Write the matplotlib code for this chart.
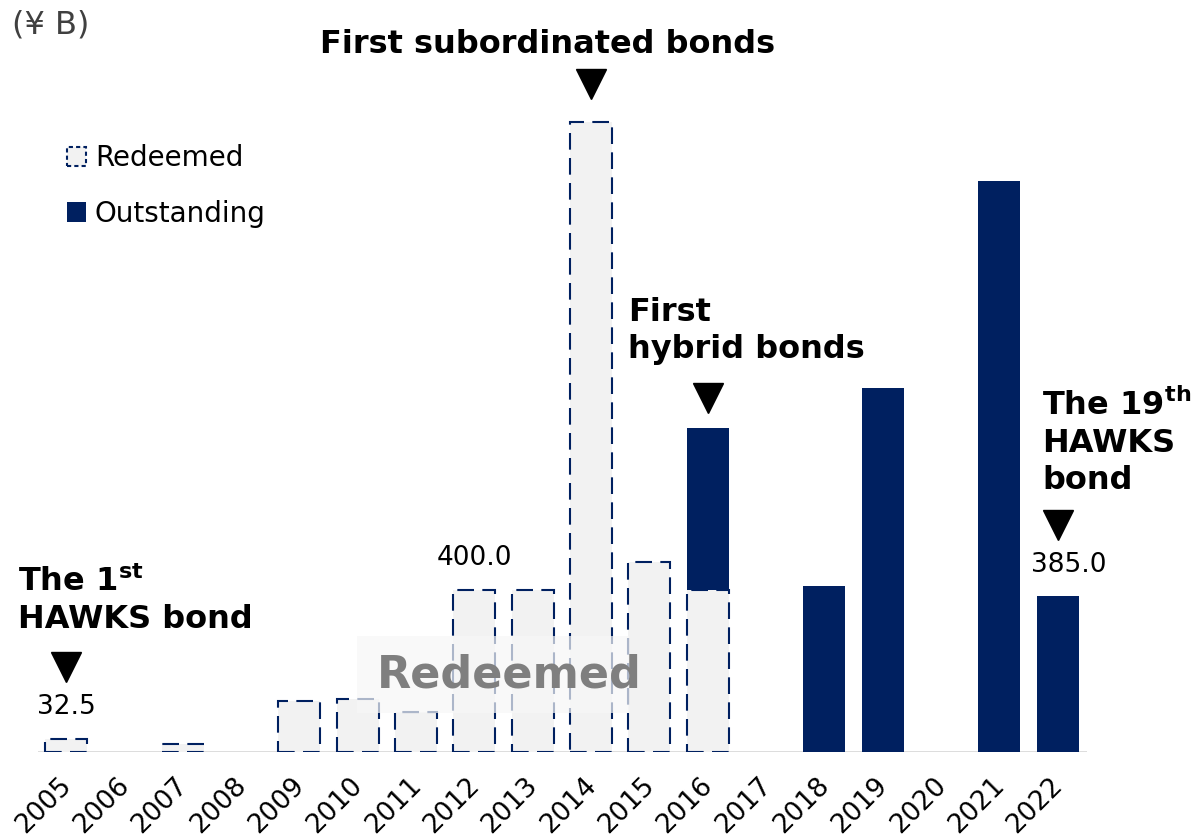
import matplotlib
matplotlib.use("Agg")
import matplotlib.pyplot as plt
import matplotlib.transforms as mtransforms
from matplotlib.patches import Patch, Rectangle

# values in ¥ B
years = [str(y) for y in range(2005, 2023)]
redeemed = [32.5, 0, 20, 0, 125, 130, 100, 400, 400, 1555, 470, 400, 0, 0, 0, 0, 0, 0]
outstanding = [0, 0, 0, 0, 0, 0, 0, 0, 0, 0, 0, 400, 0, 410, 900, 0, 1410, 385]

# value labels: (bar index, text)
value_labels = [(0, "32.5"), (7, "400.0"), (17, "385.0")]

NAVY = "#002060"
LIGHT = "#f2f2f2"

fig = plt.figure(figsize=(11.97, 8.38), dpi=100)
ax = fig.add_axes([38 / 1197, 86 / 838, 1049 / 1197, 752 / 838])

x = list(range(len(years)))
width = 0.72

# redeemed bars (dashed outline)
rx = [i for i in x if redeemed[i] > 0]
ax.bar(rx, [redeemed[i] for i in rx], width=width, color=LIGHT,
       edgecolor=NAVY, linewidth=1.5, linestyle=(0, (8, 4)), zorder=2)

# outstanding bars, stacked on top of redeemed
ox = [i for i in x if outstanding[i] > 0]
ax.bar(ox, [outstanding[i] for i in ox], width=width,
       bottom=[redeemed[i] for i in ox], color=NAVY, edgecolor="none", zorder=2)

ax.axhline(0, color="#d9d9d9", lw=2, zorder=1)

ax.set_xlim(-0.48, 17.5)
ax.set_ylim(0, 1857)
for s in ax.spines.values():
    s.set_visible(False)
ax.set_yticks([])
ax.set_xticks(x)
ax.set_xticklabels(years, rotation=45, ha="right", va="top",
                   rotation_mode="anchor", fontsize=19)
ax.tick_params(axis="x", length=0, pad=15)
offset = mtransforms.ScaledTranslation(-8 / 100, 0, fig.dpi_scale_trans)
for lbl in ax.get_xticklabels():
    lbl.set_transform(lbl.get_transform() + offset)

# value labels
for i, t in value_labels:
    yv = redeemed[i] + outstanding[i]
    xo = 0.19 if i == 17 else 0
    ax.text(i + xo, yv + 78, t, ha="center", va="center", fontsize=19)

# triangles pointing at the bars
tri_x = [0, 9, 11, 17]
tri_y = [210, 1649, 874, 560]
ax.plot(tri_x, tri_y, linestyle="none", marker="v", color="black",
        markersize=22, clip_on=False, zorder=4)

# annotations
bold = dict(fontsize=23, fontweight="bold", linespacing=1.25, zorder=5)
ax.text(-0.82, 375, "The 1$^{\\mathbf{st}}$\nHAWKS bond", ha="left", va="center",
        clip_on=False, **bold)
ax.text(8.26, 1746, "First subordinated bonds", ha="center", va="center", **bold)
ax.text(9.63, 1040, "First\nhybrid bonds", ha="left", va="center", **bold)
ax.text(16.73, 765, "The 19$^{\\mathbf{th}}$\nHAWKS\nbond", ha="left", va="center",
        clip_on=False, **bold)

# "Redeemed" watermark with translucent box
ax.add_patch(Rectangle((4.99, 96), 4.66, 190, facecolor="#f7f7f7", alpha=0.7,
                       edgecolor="none", zorder=3))
ax.text(7.6, 190, "Redeemed", ha="center", va="center", fontsize=32,
        fontweight="bold", color="#7f7f7f", zorder=4)

# unit label
fig.text(12 / 1197, 1 - 25 / 838, "(¥ B)", ha="left", va="center",
         fontsize=23, color="#404040")

handles = [Patch(facecolor=LIGHT, edgecolor=NAVY, linewidth=1.5,
                 linestyle=(0, (2, 1.5)), label="Redeemed"),
           Patch(facecolor=NAVY, edgecolor="none", label="Outstanding")]
fig.legend(handles=handles, loc="upper left", bbox_to_anchor=(67 / 1197, 1 - 144 / 838),
           frameon=False, fontsize=20, borderpad=0, borderaxespad=0,
           handlelength=0.7, handleheight=0.7, handletextpad=0.3, labelspacing=1.0)

fig.savefig("out.png", dpi=100)
